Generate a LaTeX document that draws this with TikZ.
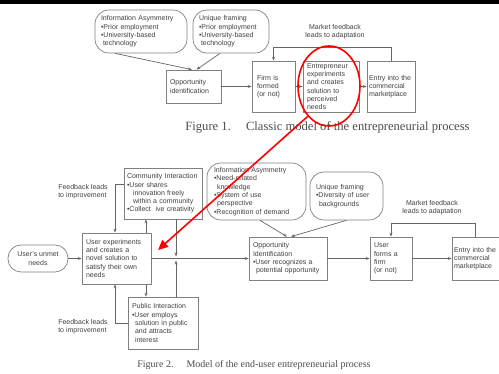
\documentclass[tikz,border=0pt]{standalone}
\usepackage{fontspec}
\setmainfont{Liberation Serif}
\setsansfont{Liberation Sans}
\usetikzlibrary{arrows.meta, positioning, shapes.geometric}

\begin{document}
\begin{tikzpicture}[x=1pt, y=-1pt,
        proc/.style={draw=black!50, fill=white, line width=0.7pt, text=black!75,
                     font=\sffamily\fontsize{7}{8.3}\selectfont, align=left,
                     inner xsep=3pt, inner ysep=1pt},
        bubble/.style={proc, rounded corners=14pt},
        lbl/.style={text=black!75, font=\sffamily\fontsize{7}{8.3}\selectfont, align=left},
        figcap/.style={text=black!70, font=\fontsize{10}{12}\selectfont},
        flow/.style={->, draw=black!60, line width=0.7pt},
        >={Stealth[length=4pt, width=3pt]}
    ]
        \useasboundingbox (0,0) rectangle (499,374);
        \fill[black] (0,0) rectangle (499,4);

        \node[bubble, minimum width=92, minimum height=43, text width=80, inner xsep=6pt] (ia1) at (141,31.5)
            {Information Asymmetry\\•Prior employment\\•University-based\\\hspace*{2pt}technology};
        \node[bubble, minimum width=76, minimum height=43, text width=64, inner xsep=6pt] (uf1) at (231,31.5)
            {Unique framing\\•Prior employment\\•University-based\\\hspace*{2pt}technology};
        \node[proc, minimum width=55, minimum height=33, text width=47, inner xsep=4pt] (opp1) at (193.5,86.5)
            {Opportunity\\identification};
        \node[proc, minimum width=43, minimum height=51, text width=33, inner xsep=5pt] (firm1) at (273.5,86.5)
            {Firm is\\formed\\(or not)};
        \node[proc, minimum width=56, minimum height=51, text width=48, inner xsep=4pt] (exp1) at (331,86.5)
            {Entrepreneur\\experiments\\and creates\\solution to\\perceived\\needs};
        \node[proc, minimum width=48, minimum height=51, text width=44, inner xsep=2pt] (entry1) at (391,86.5)
            {Entry into the\\commercial\\marketplace};
        \node[lbl, align=center] (fb1) at (335,32) {Market feedback\\leads to adaptation};
        \node[figcap, font=\fontsize{12.6}{14}\selectfont] (cap1) at (327.5,127) {Figure 1.\hspace{1.2em}Classic model of the entrepreneurial process};

        \draw[flow] ([xshift=-26pt]ia1.south) -- ([xshift=-1.5pt]opp1.north);
        \draw[flow] ([xshift=-11pt]uf1.south) -- ([xshift=3pt]opp1.north);
        \draw[flow] (opp1.east) -- (firm1.west);
        \draw[flow] (firm1.east) -- (exp1.west);
        \draw[flow] (exp1.east) -- (entry1.west);
        \draw[flow] (entry1.north) -- ++(0,-13) -| (firm1.north);

        \node[bubble, minimum width=60, minimum height=27, align=center, rounded corners=13pt] (unmet) at (38,258.5)
            {User's unmet\\needs};
        \node[proc, minimum width=69, minimum height=51, text width=61, inner xsep=4pt] (user) at (116.5,258.5)
            {User experiments\\and creates a\\novel solution to\\satisfy their own\\needs};
        \node[proc, minimum width=78, minimum height=51, text width=72] (comm) at (163,193.5)
            {Community Interaction\\•User shares\\\hspace*{6pt}innovation freely\\\hspace*{6pt}within a community\\•Collect~ ive creativity};
        \node[proc, minimum width=70, minimum height=52, text width=62, inner xsep=4pt] (pub) at (163,323)
            {Public Interaction\\•User employs\\\hspace*{3pt}solution in public\\\hspace*{3pt}and attracts\\\hspace*{3pt}interest};
        \node[bubble, minimum width=99, minimum height=57, text width=85, inner xsep=7pt] (ia2) at (256.5,191.5)
            {Information Asymmetry\\•Need-related\\\hspace*{3pt}knowledge\\•System of use\\\hspace*{3pt}perspective\\•Recognition of demand};
        \node[bubble, minimum width=73, minimum height=48, text width=61, inner xsep=6pt] (uf2) at (346.5,196)
            {Unique framing\\•Diversity of user\\\hspace*{3pt}backgrounds};
        \node[proc, minimum width=78, minimum height=43, text width=70, inner xsep=4pt] (opp2) at (288,258.5)
            {Opportunity\\Identification\\•User recognizes a\\\hspace*{3pt}potential opportunity};
        \node[proc, minimum width=42, minimum height=43, text width=34, inner xsep=4pt] (firm2) at (391,258.5)
            {User\\forms a\\firm\\(or not)};
        \node[proc, minimum width=47, minimum height=43, text width=43, inner xsep=2pt] (entry2) at (475.5,258.5)
            {Entry into the\\commercial\\marketplace};
        \node[lbl] (fbimp1) at (83,191.5) {Feedback leads\\to improvement};
        \node[lbl] (fbimp2) at (83,326.5) {Feedback leads\\to improvement};
        \node[lbl, align=center] (fb2) at (432,207.5) {Market feedback\\leads to adaptation};
        \node[figcap] (cap2) at (254,365) {Figure 2.\hspace{1.3em}Model of the end-user entrepreneurial process};
        \coordinate (jn) at (176,258.5);

        \draw[flow] (unmet.east) -- (user.west);
        \draw[flow] (user.east) -- (opp2.west);
        \draw[flow] ([xshift=13pt]comm.south) -- ([yshift=2pt]jn);
        \draw[flow] ([xshift=13pt]pub.north) -- ([yshift=-2pt]jn);
        \draw[flow] ([yshift=9.5pt]comm.west) -| ([xshift=-1.5pt]user.north);
        \draw[flow] ([xshift=29.5pt]user.north) -- ([xshift=29.5pt]user.north |- comm.south);
        \draw[flow] ([xshift=29.5pt]user.south) -- ([xshift=29.5pt]user.south |- pub.north);
        \draw[flow] (pub.west) -| ([xshift=-1.5pt]user.south);
        \draw[flow] ([xshift=3.5pt]ia2.south) -- ([xshift=-1pt]opp2.north);
        \draw[flow] (uf2.south) -- ([xshift=3pt]opp2.north);
        \draw[flow] (opp2.east) -- (firm2.west);
        \draw[flow] (firm2.east) -- (entry2.west);
        \draw[flow] ([xshift=-0.5pt]entry2.north) -- ++(0,-13) -| (firm2.north);

        \node[draw=red, line width=1.6pt, ellipse, minimum width=62, minimum height=80] (mark) at (329,86) {};
        \coordinate (tip) at (158,250);
        \draw[red, line width=1.6pt, -{Triangle[length=10pt, width=9pt]}] (mark.235) -- (tip);
\end{tikzpicture}
\end{document}
